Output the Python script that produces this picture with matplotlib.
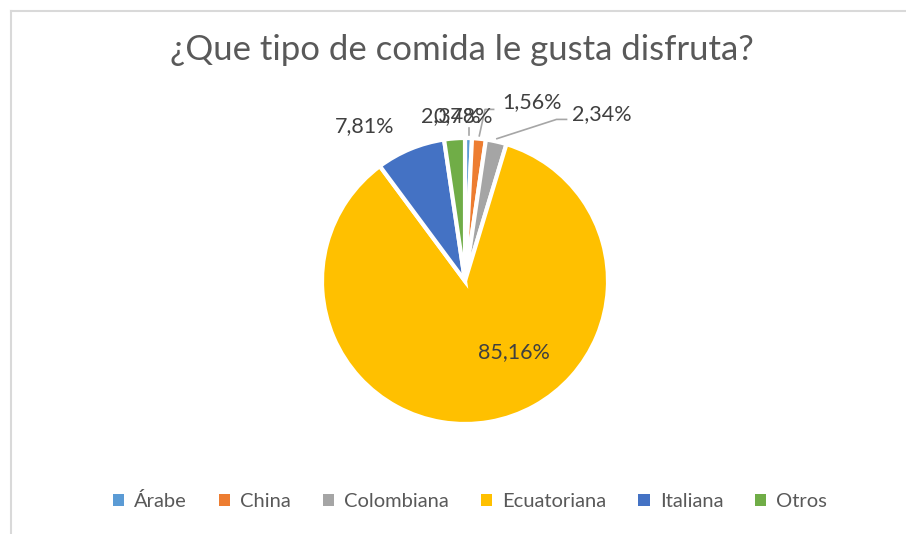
import numpy as np
import matplotlib
matplotlib.use("Agg")
import matplotlib.pyplot as plt
from matplotlib.patches import Patch
from matplotlib.lines import Line2D

plt.rcParams['font.family'] = ['Lato', 'DejaVu Sans']

categories = ["Árabe", "China", "Colombiana", "Ecuatoriana", "Italiana", "Otros"]
values = [0.78, 1.56, 2.34, 85.16, 7.81, 2.34]
labels = ["0,78%", "1,56%", "2,34%", "85,16%", "7,81%", "2,34%"]
colors = ["#5B9BD5", "#ED7D31", "#A5A5A5", "#FFC000", "#4472C4", "#70AD47"]

W, H = 906, 534
fig = plt.figure(figsize=(W / 100, H / 100), dpi=100, facecolor="white")

# pie centre / radius in pixels
cx, cy, r = 465, 281, 143
ax = fig.add_axes([(cx - r) / W, (H - cy - r) / H, 2 * r / W, 2 * r / H])
wedges, _ = ax.pie(values, colors=colors, startangle=90, counterclock=False,
                   radius=1, wedgeprops=dict(edgecolor="white", linewidth=3))
ax.set_xlim(-1, 1)
ax.set_ylim(-1, 1)
ax.set_aspect("equal")
ax.axis("off")

txt = "#404040"
fs = 15.5
# label positions (axes data units) chosen to mimic Excel's layout
pos = {
    0: (-0.01, 1.15),
    1: (0.47, 1.25),
    2: (0.96, 1.17),
    3: (0.34, -0.50),
    4: (-0.70, 1.08),
    5: (-0.10, 1.15),
}
for i, w in enumerate(wedges):
    x, y = pos[i]
    ax.text(x, y, labels[i], ha="center", va="center", fontsize=fs, color=txt,
            clip_on=False, zorder=5)

lc = "#A6A6A6"
# leader lines for small slices
for i in range(3):
    th = np.deg2rad((wedges[i].theta1 + wedges[i].theta2) / 2)
    px, py = np.cos(th) * 1.02, np.sin(th) * 1.02
    if i == 0:
        ax.add_line(Line2D([px, px], [py, py + 0.05], color=lc, lw=1.2, clip_on=False))
    elif i == 1:
        lx, ly = pos[1][0] - 0.27, pos[1][1] - 0.05
        ax.add_line(Line2D([px, lx - 0.06, lx], [py, ly, ly], color=lc, lw=1.2, clip_on=False))
    else:
        lx, ly = pos[2][0] - 0.25, pos[2][1] - 0.04
        ax.add_line(Line2D([px, lx - 0.07, lx], [py, ly, ly], color=lc, lw=1.2, clip_on=False))

fig.text(462 / W, 1 - 50 / H, "¿Que tipo de comida le gusta disfruta?", ha="center",
         va="center", fontsize=25, color="#595959")

handles = [Patch(facecolor=c, edgecolor="none") for c in colors]
fig.legend(handles, categories, loc="center", bbox_to_anchor=(470 / W, 1 - 501 / H),
           ncol=6, frameon=False, fontsize=14.5, handlelength=0.55, handleheight=0.55,
           handletextpad=0.5, columnspacing=1.6, labelcolor="#595959")

# chart border (left and top visible)
fig.add_artist(Line2D([11 / W, 11 / W], [0, 1 - 11 / H], color="#D9D9D9", lw=1.5))
fig.add_artist(Line2D([11 / W, 1], [1 - 11 / H, 1 - 11 / H], color="#D9D9D9", lw=1.5))

fig.savefig("out.png", dpi=100, facecolor="white")
